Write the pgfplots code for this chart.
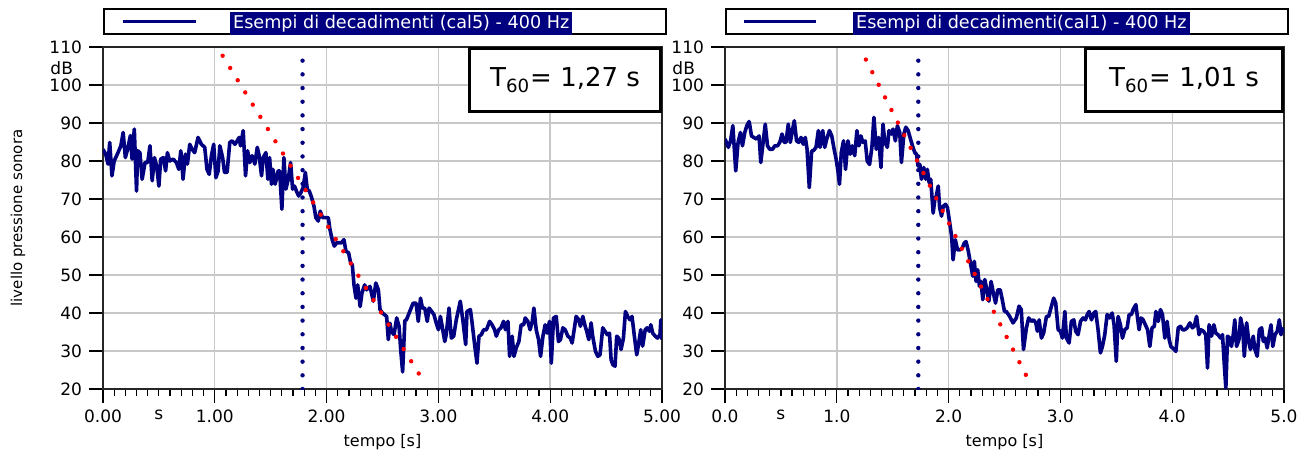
\documentclass[border=0pt]{standalone}
\usepackage{pgfplots}
\pgfplotsset{compat=1.18}
\usepackage{fontspec}
\setmainfont{DejaVu Sans}
\definecolor{navy}{RGB}{0,0,128}
\definecolor{gridgray}{RGB}{200,200,200}
\setlength{\fboxsep}{1.5pt}

\pgfplotstableread{
x y
0.000 83.1
0.024 81.8
0.045 79.2
0.060 84.9
0.080 76.1
0.100 80.0
0.134 82.2
0.160 84.0
0.180 87.5
0.200 80.9
0.220 83.1
0.245 86.7
0.260 80.5
0.280 88.4
0.300 72.1
0.310 82.7
0.330 82.2
0.350 75.2
0.376 79.6
0.400 79.6
0.420 84.0
0.440 74.8
0.460 80.9
0.480 78.7
0.500 73.4
0.516 80.5
0.540 80.9
0.560 77.4
0.576 82.2
0.597 80.0
0.627 80.5
0.657 79.6
0.678 77.8
0.696 82.7
0.716 75.2
0.737 81.8
0.755 79.2
0.776 84.4
0.797 83.1
0.820 82.2
0.850 86.2
0.880 84.4
0.910 83.6
0.930 77.8
0.950 76.5
0.970 81.4
0.990 84.4
1.010 75.6
1.030 77.4
1.045 84.0
1.070 80.9
1.087 77.0
1.110 77.0
1.134 84.9
1.155 85.3
1.180 84.4
1.200 85.3
1.218 86.2
1.230 84.0
1.254 88.0
1.275 76.1
1.293 82.7
1.313 79.6
1.334 81.4
1.358 79.2
1.380 83.6
1.397 81.4
1.418 76.1
1.433 80.9
1.457 82.2
1.475 75.2
1.490 80.9
1.507 73.9
1.520 77.8
1.540 73.9
1.567 77.4
1.580 77.4
1.600 67.3
1.618 80.9
1.636 72.6
1.657 75.2
1.678 79.6
1.696 72.6
1.713 73.4
1.730 72.1
1.750 70.8
1.770 71.7
1.790 73.0
1.810 77.0
1.827 72.6
1.845 72.1
1.866 70.4
1.887 68.1
1.904 65.1
1.925 64.2
1.943 66.8
1.964 65.1
1.985 65.1
2.015 65.1
2.030 62.0
2.050 59.3
2.069 57.6
2.090 58.5
2.110 58.5
2.134 58.5
2.155 59.3
2.173 56.3
2.197 55.8
2.215 53.2
2.230 52.7
2.245 47.4
2.263 43.9
2.278 47.4
2.300 41.7
2.316 45.2
2.340 47.4
2.358 46.1
2.388 47.0
2.418 43.1
2.440 47.9
2.463 46.1
2.478 40.9
2.500 40.0
2.520 39.5
2.537 39.1
2.552 33.0
2.567 37.3
2.580 35.1
2.603 34.3
2.627 38.7
2.648 36.5
2.663 30.3
2.680 24.5
2.700 38.0
2.714 38.2
2.744 40.4
2.774 42.6
2.800 42.6
2.820 37.8
2.840 43.9
2.857 41.3
2.878 41.3
2.900 37.8
2.917 41.3
2.940 40.4
2.960 39.6
2.980 37.4
3.000 35.6
3.018 39.1
3.036 36.1
3.057 32.5
3.070 34.3
3.095 41.3
3.116 33.4
3.137 33.9
3.160 38.2
3.196 43.1
3.220 37.8
3.244 31.7
3.256 40.4
3.286 40.9
3.300 37.8
3.324 31.7
3.345 26.8
3.363 33.9
3.384 34.3
3.405 35.6
3.430 35.6
3.458 37.8
3.480 36.9
3.503 35.6
3.518 33.9
3.540 35.6
3.560 36.1
3.583 37.8
3.600 35.6
3.622 37.8
3.637 28.6
3.660 33.9
3.676 28.6
3.696 30.8
3.720 32.5
3.740 36.9
3.763 36.9
3.777 38.7
3.800 37.8
3.820 35.6
3.840 37.8
3.854 41.3
3.875 35.6
3.896 33.0
3.914 28.6
3.935 33.9
3.955 36.9
3.973 34.7
3.994 37.8
4.010 26.8
4.030 38.7
4.054 39.1
4.074 32.5
4.092 33.0
4.113 36.1
4.134 35.6
4.158 33.9
4.180 33.4
4.196 32.1
4.217 36.1
4.232 39.1
4.256 38.2
4.270 36.5
4.292 39.1
4.313 36.5
4.327 35.2
4.345 33.0
4.366 37.4
4.380 33.9
4.405 29.9
4.426 28.6
4.446 29.0
4.470 36.1
4.490 35.2
4.510 34.3
4.530 34.7
4.545 27.7
4.560 26.4
4.580 26.0
4.595 33.9
4.613 33.4
4.634 30.4
4.655 33.4
4.673 40.4
4.693 39.1
4.714 38.2
4.732 39.1
4.753 33.9
4.774 29.0
4.790 31.7
4.810 35.6
4.827 31.3
4.850 35.6
4.866 36.1
4.887 35.2
4.900 36.9
4.917 34.7
4.940 33.9
4.960 33.4
4.982 34.3
4.990 38.2
5.000 33.0
}\calfive

\pgfplotstableread{
x y
0.000 85.8
0.030 83.6
0.050 85.3
0.070 89.3
0.096 77.4
0.117 84.9
0.138 87.5
0.156 84.0
0.177 87.5
0.195 89.3
0.216 90.4
0.237 86.6
0.257 86.2
0.281 85.8
0.305 86.6
0.320 79.6
0.341 84.9
0.360 89.7
0.380 84.0
0.400 83.1
0.425 83.1
0.446 84.0
0.470 84.0
0.490 84.9
0.510 87.1
0.530 84.9
0.545 84.9
0.566 89.7
0.584 84.9
0.605 88.4
0.620 90.6
0.640 85.3
0.660 84.9
0.680 86.2
0.700 84.4
0.718 86.2
0.734 83.1
0.754 73.0
0.775 82.7
0.790 82.7
0.814 83.6
0.835 88.0
0.850 83.6
0.874 88.0
0.892 83.6
0.910 85.8
0.934 88.0
0.955 86.6
0.976 83.1
0.994 80.5
1.010 77.4
1.024 73.9
1.040 82.2
1.060 85.3
1.078 77.8
1.100 85.3
1.120 81.8
1.138 84.0
1.160 81.4
1.180 88.0
1.198 84.0
1.216 86.6
1.233 84.9
1.254 85.3
1.272 80.0
1.293 79.1
1.314 83.6
1.332 91.5
1.353 83.1
1.374 86.2
1.395 78.3
1.413 89.7
1.430 84.9
1.452 83.6
1.467 88.0
1.488 87.1
1.503 88.4
1.524 85.3
1.542 89.3
1.563 87.5
1.578 79.6
1.600 87.1
1.617 88.9
1.638 88.0
1.659 85.8
1.677 84.0
1.698 82.2
1.713 81.8
1.727 78.7
1.743 79.1
1.757 75.2
1.778 78.3
1.796 75.2
1.810 77.8
1.826 74.3
1.840 75.2
1.862 66.3
1.877 69.9
1.890 70.8
1.907 73.4
1.920 67.7
1.937 65.5
1.952 68.1
1.973 68.6
1.990 67.7
2.010 63.7
2.027 60.2
2.040 54.0
2.060 59.3
2.080 56.6
2.100 56.6
2.123 57.1
2.140 58.4
2.156 58.8
2.177 56.2
2.190 54.0
2.216 49.7
2.230 53.6
2.246 48.3
2.260 51.4
2.276 47.0
2.290 48.3
2.306 43.5
2.324 48.8
2.342 46.1
2.360 43.1
2.380 48.3
2.400 45.3
2.420 42.6
2.440 46.1
2.462 46.1
2.480 43.5
2.500 40.4
2.516 40.4
2.546 39.1
2.576 37.4
2.606 38.7
2.630 41.8
2.650 40.9
2.670 30.4
2.696 36.1
2.716 38.7
2.740 37.8
2.760 38.2
2.780 37.4
2.794 35.2
2.810 38.2
2.830 33.4
2.850 34.7
2.875 39.1
2.895 39.1
2.920 41.8
2.940 43.9
2.958 42.6
2.980 35.6
3.000 35.2
3.018 33.4
3.040 40.4
3.054 33.4
3.078 32.1
3.098 37.8
3.120 38.2
3.137 35.2
3.158 34.3
3.180 37.8
3.203 38.7
3.224 38.2
3.240 39.6
3.257 40.4
3.278 38.2
3.300 40.0
3.316 40.4
3.337 35.6
3.358 29.5
3.376 31.2
3.397 34.3
3.418 39.6
3.440 38.7
3.463 40.0
3.480 36.9
3.500 27.3
3.516 39.1
3.537 36.9
3.555 33.4
3.576 35.6
3.597 36.1
3.615 39.6
3.636 39.6
3.650 40.9
3.675 42.2
3.690 38.7
3.704 35.6
3.722 38.7
3.740 38.2
3.760 36.9
3.780 35.6
3.800 31.2
3.820 36.1
3.840 36.5
3.854 40.4
3.875 37.8
3.895 40.9
3.913 39.6
3.934 33.4
3.955 37.8
3.973 33.0
3.988 31.2
4.003 30.8
4.018 30.4
4.033 29.9
4.054 36.1
4.075 36.5
4.093 35.6
4.113 35.6
4.134 36.1
4.158 37.4
4.180 36.1
4.197 36.5
4.218 39.1
4.240 34.3
4.257 35.6
4.280 35.2
4.300 34.3
4.316 25.5
4.330 36.9
4.352 33.9
4.373 36.9
4.390 34.7
4.410 34.3
4.433 33.4
4.450 34.3
4.466 26.4
4.480 20.3
4.495 33.9
4.516 33.4
4.530 31.2
4.546 34.3
4.560 38.2
4.576 31.2
4.597 33.0
4.612 38.7
4.630 36.1
4.645 28.6
4.666 37.4
4.687 32.1
4.700 30.4
4.725 33.9
4.740 30.4
4.760 28.6
4.780 35.6
4.800 36.1
4.815 32.5
4.830 33.4
4.850 30.8
4.870 34.7
4.884 36.9
4.900 31.2
4.920 34.3
4.940 35.2
4.958 38.2
4.973 34.3
4.990 35.6
5.000 36.1
}\calone

\pgfplotsset{
  curve/.style={navy, line width=1.8pt, line join=round},
  vdots/.style={navy, line width=2.2pt, line cap=round, dash pattern=on 0pt off 6.84pt},
  rdotsA/.style={red, line width=2.2pt, line cap=round, dash pattern=on 0pt off 7.18pt},
  rdotsB/.style={red, line width=2.2pt, line cap=round, dash pattern=on 0pt off 7.07pt},
  decay/.style={
    scale only axis, width=279.5pt, height=171pt,
    xmin=0, xmax=5, ymin=20, ymax=110,
    xtick={0,1,2,3,4,5},
    ytick={20,30,40,50,60,70,80,90,100,110},
    yticklabels={20,30,40,50,60,70,80,90,100,110},
    minor x tick num=9,
    xtick pos=lower, ytick pos=left,
    tick align=outside,
    major tick length=7pt, minor tick length=3.5pt,
    every tick/.style={black, line width=0.6pt},
    xmajorgrids, ymajorgrids,
    major grid style={gridgray, line width=0.7pt},
    axis line style={black!85, line width=1.4pt},
    ticklabel style={font=\fontsize{8.5}{10}\selectfont},
    label style={font=\fontsize{8}{9.6}\selectfont},
    xlabel={tempo [s]},
    xlabel style={at={(axis description cs:0.5,-0.155)}, anchor=center},
    extra x ticks={0.5}, extra x tick labels={s},
    extra y ticks={104.5}, extra y tick labels={dB},
    extra x tick style={grid=none, tick style={draw=none}},
    extra y tick style={grid=none, tick style={draw=none}, yticklabel style={xshift=-4.5pt}},
    legend style={at={(0,1)}, anchor=south west, yshift=6pt, draw=black,
      line width=0.8pt, inner xsep=0pt, inner ysep=1.5pt,
      nodes={inner sep=0pt}, fill=white,
      font=\fontsize{8.8}{10.5}\selectfont},
    legend cell align=left,
  }
}

\begin{document}
\begin{tikzpicture}
\useasboundingbox (0,0) rectangle (656.5pt,228pt);

\begin{axis}[decay, at={(51.5pt,33.5pt)}, anchor=south west,
  xticklabels={0.00,1.00,2.00,3.00,4.00,5.00},
  ylabel={livello pressione sonora},
  ylabel style={at={(axis description cs:-0.152,0.5)}, anchor=center, font=\fontsize{7.5}{9}\selectfont},
  legend image code/.code={\path (0pt,0pt); \draw[navy, line width=1.6pt] (8.5pt,0pt) -- (45pt,0pt);}]
\addplot[curve] table[x=x,y=y] {\calfive};
\addlegendentry{\makebox[234.5pt][l]{\hspace*{16.5pt}\colorbox{navy}{\textcolor{white}{Esempi di decadimenti (cal5) - 400 Hz}}}}
\addplot[vdots, forget plot] coordinates {(1.785,20) (1.785,110)};
\addplot[rdotsA, forget plot] coordinates {(1.07,107.7) (2.828,23.9)};
\node[draw=black, line width=1.4pt, fill=white, anchor=north east, minimum width=95.5pt, minimum height=31.5pt, inner sep=0pt, font=\fontsize{13}{15}\selectfont] at (rel axis cs:1,1) {T\textsubscript{60}= 1,27 s};
\end{axis}

\begin{axis}[decay, at={(362.5pt,33.5pt)}, anchor=south west,
  xticklabels={0.0,1.0,2.0,3.0,4.0,5.0},
  legend image code/.code={\path (0pt,0pt); \draw[navy, line width=1.6pt] (8pt,0pt) -- (44pt,0pt);}]
\addplot[curve] table[x=x,y=y] {\calone};
\addlegendentry{\makebox[235.5pt][l]{\hspace*{18pt}\colorbox{navy}{\textcolor{white}{Esempi di decadimenti(cal1) - 400 Hz}}}}
\addplot[vdots, forget plot] coordinates {(1.729,20) (1.729,110)};
\addplot[rdotsB, forget plot] coordinates {(1.26,106.7) (2.695,23.5)};
\node[draw=black, line width=1.4pt, fill=white, anchor=north east, minimum width=98.5pt, minimum height=31.5pt, inner sep=0pt, font=\fontsize{13}{15}\selectfont] at (rel axis cs:1,1) {T\textsubscript{60}= 1,01 s};
\end{axis}
\end{tikzpicture}
\end{document}
